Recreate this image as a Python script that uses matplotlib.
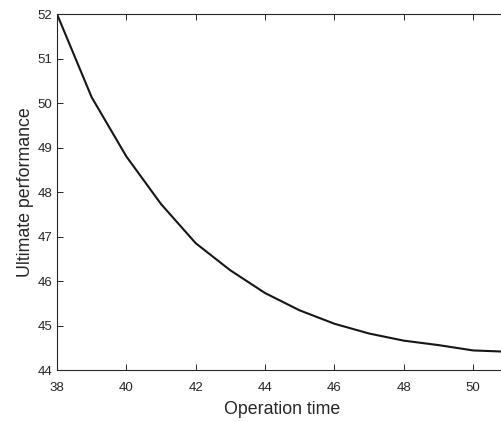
import matplotlib
matplotlib.use('Agg')
import matplotlib.pyplot as plt

# operation time vs. ultimate performance
op_time = [38, 39, 40, 41, 42, 43, 44, 45, 46, 47, 48, 49, 50, 51]
performance = [52.0, 50.13, 48.8, 47.73, 46.85, 46.24, 45.73, 45.34, 45.04,
               44.82, 44.66, 44.56, 44.44, 44.41]
x_ticks = [38, 40, 42, 44, 46, 48, 50]
y_ticks = [44, 45, 46, 47, 48, 49, 50, 51, 52]

plt.rcParams['font.family'] = ['Liberation Sans', 'DejaVu Sans']

fig = plt.figure(figsize=(5.02, 4.22), dpi=100)
ax = fig.add_axes([0.1135, 0.1232, 0.898, 0.8436])

ax.plot(op_time, performance, color='#161616', linewidth=1.5)

ax.set_xlim(38, 51)
ax.set_ylim(44, 52)
ax.set_xticks(x_ticks)
ax.set_yticks(y_ticks)
ax.tick_params(direction='in', length=4, width=0.7, top=True, labelsize=9.5,
               colors='#262626')
ax.tick_params(axis='x', pad=8.5)
ax.tick_params(axis='y', pad=3.5)
for side in ['left', 'bottom', 'top']:
    ax.spines[side].set_linewidth(0.8)
    ax.spines[side].set_color('#262626')
ax.spines['right'].set_visible(False)

ax.set_xlabel('Operation time', fontsize=12.8, color='#262626', labelpad=5.5)
ax.set_ylabel('Ultimate performance', fontsize=12.8, color='#262626', labelpad=2.5)

fig.savefig('out.png', dpi=100)
